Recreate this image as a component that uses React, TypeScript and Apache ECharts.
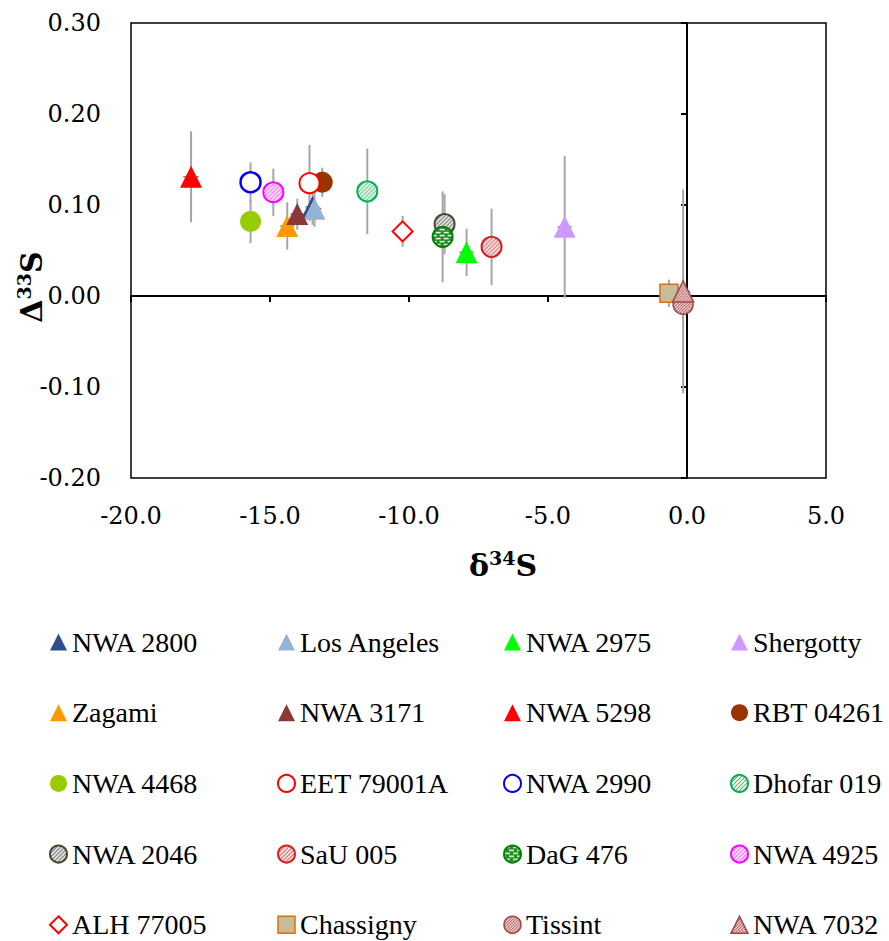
import React, { useEffect, useRef } from 'react';
import * as echarts from 'echarts';

// ---------- data (legend order) ----------
const names = [
  'NWA 2800', 'Los Angeles', 'NWA 2975', 'Shergotty',
  'Zagami', 'NWA 3171', 'NWA 5298', 'RBT 04261',
  'NWA 4468', 'EET 79001A', 'NWA 2990', 'Dhofar 019',
  'NWA 2046', 'SaU 005', 'DaG 476', 'NWA 4925',
  'ALH 77005', 'Chassigny', 'Tissint', 'NWA 7032',
];
// δ34S
const xVals = [
  -13.47, -13.40, -7.93, -4.40,
  -14.38, -14.02, -17.84, -13.12,
  -15.70, -13.58, -15.70, -11.50,
  -8.72, -7.03, -8.79, -14.88,
  -10.23, -0.65, -0.14, -0.14,
];
// Δ33S
const yVals = [
  0.098, 0.096, 0.048, 0.076,
  0.077, 0.090, 0.131, 0.125,
  0.082, 0.124, 0.125, 0.115,
  0.079, 0.054, 0.065, 0.114,
  0.071, 0.003, -0.009, 0.005,
];
const xErrs = [
  0.25, 0.25, 0.25, 0.25,
  0.25, 0.25, 0.28, 0.25,
  0.25, 0.25, 0.25, 0.25,
  0.25, 0.25, 0.25, 0.25,
  0.2, 0.25, 0.25, 0.25,
];
const yErrs = [
  0.02, 0.02, 0.026, 0.078,
  0.026, 0.017, 0.05, 0.016,
  0.024, 0.042, 0.022, 0.047,
  0.033, 0.042, 0.05, 0.026,
  0.017, 0.015, 0.02, 0.112,
];
const xTicks = { min: -20, max: 5, interval: 5 };
const yTicks = { min: -0.2, max: 0.3, interval: 0.1 };

const FONT = 'DejaVu Serif';
const LEGEND_FONT = 'Liberation Serif';

type Style = {
  symbol: string;
  size: number;
  fill: string;
  border?: string;
  bw?: number;
  tile?: string;
};

const styles: Record<string, Style> = {
  'NWA 2800': { symbol: 'triangle', size: 22, fill: '#2e4f8f' },
  'Los Angeles': { symbol: 'triangle', size: 22, fill: '#95b3d7' },
  'NWA 2975': { symbol: 'triangle', size: 22, fill: '#00ff00' },
  'Shergotty': { symbol: 'triangle', size: 22, fill: '#cc99ff' },
  'Zagami': { symbol: 'triangle', size: 22, fill: '#ff9900' },
  'NWA 3171': { symbol: 'triangle', size: 22, fill: '#8c3836' },
  'NWA 5298': { symbol: 'triangle', size: 22, fill: '#ff0000' },
  'RBT 04261': { symbol: 'circle', size: 21, fill: '#993300' },
  'NWA 4468': { symbol: 'circle', size: 21, fill: '#99cc00' },
  'EET 79001A': { symbol: 'circle', size: 20, fill: '#ffffff', border: '#ff0000', bw: 2 },
  'NWA 2990': { symbol: 'circle', size: 20, fill: '#ffffff', border: '#0000ff', bw: 2.5 },
  'Dhofar 019': { symbol: 'circle', size: 20, fill: '#ccf0d8', border: '#00b050', bw: 2, tile: 'dhofar' },
  'NWA 2046': { symbol: 'circle', size: 20, fill: '#cccccc', border: '#4a452a', bw: 2, tile: 'n2046' },
  'SaU 005': { symbol: 'circle', size: 20, fill: '#f4c0c0', border: '#d02020', bw: 2, tile: 'sau' },
  'DaG 476': { symbol: 'circle', size: 20, fill: '#2e9a2e', border: '#008000', bw: 2, tile: 'dag' },
  'NWA 4925': { symbol: 'circle', size: 20, fill: '#ffc0ff', border: '#ff00ff', bw: 2, tile: 'n4925' },
  'ALH 77005': { symbol: 'diamond', size: 20, fill: '#ffffff', border: '#ff0000', bw: 2 },
  'Chassigny': { symbol: 'rect', size: 18, fill: '#c4bd97', border: '#e46c0a', bw: 1.5 },
  'Tissint': { symbol: 'circle', size: 20, fill: '#d9a0a0', border: '#a04545', bw: 1.5, tile: 'tissint' },
  'NWA 7032': { symbol: 'triangle', size: 21, fill: '#d9a0a0', border: '#a04545', bw: 1.5, tile: 'tissint' },
};

function makeTile(w: number, h: number, draw: (ctx: CanvasRenderingContext2D) => void) {
  const c = document.createElement('canvas');
  c.width = w;
  c.height = h;
  const ctx = c.getContext('2d') as CanvasRenderingContext2D;
  draw(ctx);
  return c;
}

function hatchTile(bg: string, fg: string, s: number, lw: number) {
  return makeTile(s, s, (ctx) => {
    ctx.fillStyle = bg;
    ctx.fillRect(0, 0, s, s);
    ctx.strokeStyle = fg;
    ctx.lineWidth = lw;
    ctx.beginPath();
    ctx.moveTo(-1, s + 1);
    ctx.lineTo(s + 1, -1);
    ctx.moveTo(-1, 1);
    ctx.lineTo(1, -1);
    ctx.moveTo(s - 1, s + 1);
    ctx.lineTo(s + 1, s - 1);
    ctx.stroke();
  });
}

function brickTile() {
  return makeTile(8, 6, (ctx) => {
    ctx.fillStyle = '#1e8c1e';
    ctx.fillRect(0, 0, 8, 6);
    ctx.fillStyle = '#ffffff';
    ctx.fillRect(1, 1, 5, 1.4);
    ctx.fillRect(-3, 4, 5, 1.4);
    ctx.fillRect(5, 4, 5, 1.4);
  });
}

function buildTiles(): Record<string, HTMLCanvasElement> {
  return {
    dhofar: hatchTile('#e6f8ec', '#30b060', 4, 1),
    n2046: hatchTile('#e0e0e0', '#555555', 4, 1),
    sau: hatchTile('#fbe0e0', '#d04040', 4, 1),
    dag: brickTile(),
    n4925: hatchTile('#ffe6ff', '#ff33ff', 4, 1),
    tissint: hatchTile('#f0d0d0', '#a04545', 3, 1),
  };
}

function pattern(tile: HTMLCanvasElement, scale: number) {
  return {
    image: tile,
    repeat: 'repeat',
    imageWidth: tile.width,
    imageHeight: tile.height,
    scaleX: scale,
    scaleY: scale,
  };
}

const legendColumns = [
  { left: 49, items: [0, 4, 8, 12, 16] },
  { left: 277, items: [1, 5, 9, 13, 17] },
  { left: 503, items: [2, 6, 10, 14, 18] },
  { left: 730, items: [3, 7, 11, 15, 19] },
];

function buildOption() {
  const tiles = buildTiles();

  const scatterSeries = names.map((n, i) => {
    const st = styles[n];
    return {
      type: 'scatter',
      name: n,
      xAxisIndex: 0,
      yAxisIndex: 0,
      symbol: st.symbol,
      symbolSize: st.size,
      z: 3,
      itemStyle: {
        color: st.tile ? pattern(tiles[st.tile], 2 / st.size) : st.fill,
        borderColor: st.border || st.fill,
        borderWidth: st.border ? st.bw : 0,
        opacity: 1,
      },
      emphasis: { disabled: true },
      data: [[xVals[i], yVals[i]]],
    };
  });

  const errSeries = {
    type: 'custom',
    name: 'errors',
    xAxisIndex: 0,
    yAxisIndex: 0,
    z: 2,
    silent: true,
    encode: { x: 0, y: 1 },
    data: names.map((_, i) => [xVals[i], yVals[i], xErrs[i], yErrs[i]]),
    renderItem: (params: any, api: any) => {
      const x = api.value(0);
      const y = api.value(1);
      const xe = api.value(2);
      const ye = api.value(3);
      const top = api.coord([x, y + ye]);
      const bot = api.coord([x, y - ye]);
      const l = api.coord([x - xe, y]);
      const r = api.coord([x + xe, y]);
      return {
        type: 'group',
        children: [
          {
            type: 'line',
            shape: { x1: top[0], y1: top[1], x2: bot[0], y2: bot[1] },
            style: { stroke: '#a6a6a6', lineWidth: 2 },
          },
          {
            type: 'line',
            shape: { x1: l[0], y1: l[1], x2: r[0], y2: r[1] },
            style: { stroke: '#808080', lineWidth: 1.5 },
          },
        ],
      };
    },
  };

  const legends = legendColumns.map((col) => ({
    orient: 'vertical',
    left: col.left,
    top: 628,
    padding: 0,
    itemWidth: 17,
    itemHeight: 17,
    itemGap: 42.7,
    selectedMode: false,
    textStyle: { fontFamily: LEGEND_FONT, fontSize: 28, color: '#000', lineHeight: 28 },
    data: col.items.map((i) => {
      const st = styles[names[i]];
      return {
        name: names[i],
        icon: st.symbol,
        itemStyle: {
          color: st.tile ? pattern(tiles[st.tile], 1) : st.fill,
          borderColor: st.border || st.fill,
          borderWidth: st.border ? Math.min(st.bw || 1, 2) : 0,
        },
      };
    }),
  }));

  const axisLabelStyle = { fontFamily: FONT, fontSize: 24, color: '#000' };

  return {
    animation: false,
    backgroundColor: '#ffffff',
    grid: {
      left: 131,
      right: 63,
      top: 23,
      bottom: 463,
      show: true,
      borderColor: '#000',
      borderWidth: 1.5,
      backgroundColor: 'transparent',
      outerBoundsMode: 'none',
    },
    xAxis: [
      {
        type: 'value',
        ...xTicks,
        position: 'bottom',
        axisLine: { show: false, onZero: false },
        axisTick: { show: false },
        splitLine: { show: false },
        axisLabel: {
          ...axisLabelStyle,
          margin: 26,
          showMinLabel: true,
          showMaxLabel: true,
          formatter: (v: number) => v.toFixed(1),
        },
      },
      {
        type: 'value',
        ...xTicks,
        position: 'bottom',
        axisLine: { show: true, onZero: true, onZeroAxisIndex: 0, lineStyle: { color: '#000', width: 2 } },
        axisTick: { show: true, length: 6, lineStyle: { color: '#000', width: 2 } },
        splitLine: { show: false },
        axisLabel: { show: false },
      },
    ],
    yAxis: [
      {
        type: 'value',
        ...yTicks,
        position: 'left',
        axisLine: { show: false, onZero: false },
        axisTick: { show: false },
        splitLine: { show: false },
        axisLabel: {
          ...axisLabelStyle,
          margin: 30,
          showMinLabel: true,
          showMaxLabel: true,
          formatter: (v: number) => v.toFixed(2),
        },
      },
      {
        type: 'value',
        ...yTicks,
        position: 'left',
        axisLine: { show: true, onZero: true, onZeroAxisIndex: 0, lineStyle: { color: '#000', width: 2 } },
        axisTick: { show: true, length: 6, lineStyle: { color: '#000', width: 2 } },
        splitLine: { show: false },
        axisLabel: { show: false },
      },
    ],
    legend: legends,
    graphic: [
      {
        type: 'text',
        x: 503,
        y: 565,
        style: {
          text: '{a|δ}{b|34}{a|S}',
          align: 'center',
          verticalAlign: 'middle',
          rich: {
            a: { fontFamily: FONT, fontSize: 30, fontWeight: 'bold', color: '#000', lineHeight: 34 },
            b: { fontFamily: FONT, fontSize: 19, fontWeight: 'bold', color: '#000', lineHeight: 22, verticalAlign: 'top' },
          },
        },
      },
      {
        type: 'text',
        x: 31,
        y: 287,
        rotation: Math.PI / 2,
        style: {
          text: '{a|Δ}{b|33}{a|S}',
          align: 'center',
          verticalAlign: 'middle',
          rich: {
            a: { fontFamily: FONT, fontSize: 30, fontWeight: 'bold', color: '#000', lineHeight: 34 },
            b: { fontFamily: FONT, fontSize: 19, fontWeight: 'bold', color: '#000', lineHeight: 22, verticalAlign: 'top' },
          },
        },
      },
    ],
    series: [errSeries, ...scatterSeries],
  };
}

export default function App() {
  const ref = useRef<HTMLDivElement>(null);
  useEffect(() => {
    if (!ref.current) return;
    const chart = echarts.init(ref.current, null, { renderer: 'svg' });
    chart.setOption(buildOption() as any);
    return () => {
      chart.dispose();
    };
  }, []);
  return (
    <div
      ref={ref}
      style={{ position: 'absolute', left: 0, top: 0, width: 889, height: 941, background: '#fff' }}
    />
  );
}
